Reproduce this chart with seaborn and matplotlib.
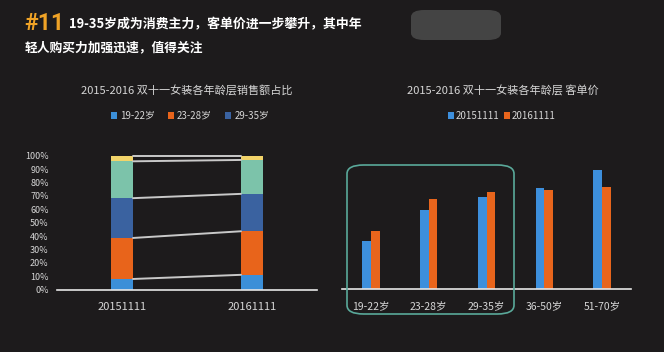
import numpy as np
import pandas as pd
import matplotlib
matplotlib.use("Agg")
import matplotlib.pyplot as plt
from matplotlib.patches import Patch, FancyBboxPatch
import seaborn as sns

# ---------------- data ----------------
years = ["20151111", "20161111"]
share_groups = ["19-22岁", "23-28岁", "29-35岁", "36-50岁", "51-70岁"]
share_2015 = [0.080, 0.306, 0.297, 0.275, 0.042]
share_2016 = [0.111, 0.325, 0.279, 0.253, 0.032]

price_groups = ["19-22岁", "23-28岁", "29-35岁", "36-50岁", "51-70岁"]
price_2015 = [143, 236, 276, 303, 356]
price_2016 = [172, 269, 289, 295, 306]

# ---------------- style ----------------
BG = "#1d1b1c"
sns.set_theme(style="dark")
plt.rcParams["font.family"] = ["Noto Sans CJK SC", "DejaVu Sans"]
plt.rcParams["axes.unicode_minus"] = False

seg_colors = ["#3b8fd8", "#e8641b", "#3a62a0", "#7cc3aa", "#f2d46a"]
price_colors = ["#3d8fdc", "#e8651c"]
TXT = "#d6d6d6"

fig = plt.figure(figsize=(6.64, 3.52), dpi=100)
fig.patch.set_facecolor(BG)

# headline
fig.text(24 / 664, 1 - 23 / 352, "#11", color="#f0a326", fontsize=16.5,
         fontweight="bold", family=["Roboto", "DejaVu Sans"], va="center", ha="left")
fig.text(69 / 664, 1 - 24 / 352, "19-35岁成为消费主力，客单价进一步攀升，其中年",
         color="white", fontsize=9.3, fontweight="bold", va="center", ha="left")
fig.text(25 / 664, 1 - 48 / 352, "轻人购买力加强迅速，值得关注",
         color="white", fontsize=9.2, fontweight="bold", va="center", ha="left")
# blurred logo placeholder
fig.patches.append(FancyBboxPatch((411 / 664, 1 - 40 / 352), 90 / 664, 30 / 352,
                                  boxstyle="round,pad=0,rounding_size=0.02",
                                  transform=fig.transFigure, facecolor="#4c4c4c",
                                  edgecolor="none", alpha=0.85))

# ---------------- left: stacked share ----------------
axL = fig.add_axes([57 / 664, 1 - 289.7 / 352, 260 / 664, 134.7 / 352])
axL.set_facecolor(BG)
cum = np.cumsum(np.array([share_2015, share_2016]), axis=1)
for i in range(len(share_groups) - 1, -1, -1):
    d = pd.DataFrame({"year": years, "v": cum[:, i]})
    sns.barplot(data=d, x="year", y="v", color=seg_colors[i], width=0.17,
                saturation=1, ax=axL, edgecolor="none")
# connector lines
half = 0.17 / 2
for i in range(len(share_groups)):
    axL.plot([0 + half, 1 - half], [cum[0, i], cum[1, i]], color="#c9c9c9", lw=1.4)
axL.set_xlim(-0.5, 1.5)
axL.set_yticks(np.arange(0, 1.01, 0.1))
axL.set_yticklabels([f"{int(round(t * 100))}%" for t in np.arange(0, 1.01, 0.1)])
axL.tick_params(axis="y", colors=TXT, labelsize=6.5, length=0, pad=6)
axL.tick_params(axis="x", colors=TXT, labelsize=8, length=0, pad=9)
axL.set_xlabel("")
axL.set_ylabel("")
axL.grid(False)
for s in ["top", "right", "left"]:
    axL.spines[s].set_visible(False)
axL.spines["bottom"].set_color("#e6e6e6")
axL.spines["bottom"].set_linewidth(1.2)
axL.set_ylim(0, 1.005)
fig.text(187 / 664, 1 - 91 / 352, "2015-2016 双十一女装各年龄层销售额占比",
         color=TXT, fontsize=8, ha="center", va="center")
handles = [Patch(facecolor=seg_colors[i], edgecolor="none") for i in range(3)]
fig.legend(handles, share_groups[:3], loc="center", bbox_to_anchor=(190 / 664, 1 - 116 / 352),
           ncol=3, frameon=False, fontsize=7, labelcolor=TXT, handlelength=0.6,
           handleheight=0.6, handletextpad=0.3, columnspacing=1.4)

# ---------------- right: price ----------------
axR = fig.add_axes([342 / 664, 1 - 288.7 / 352, 289 / 664, 133.7 / 352])
axR.set_facecolor(BG)
df_price = pd.DataFrame({
    "age": price_groups * 2,
    "year": [years[0]] * len(price_groups) + [years[1]] * len(price_groups),
    "price": price_2015 + price_2016,
})
sns.barplot(data=df_price, x="age", y="price", hue="year", palette=price_colors,
            width=0.30, saturation=1, ax=axR, edgecolor="none", legend=False)
axR.set_xlim(-0.5, 4.5)
axR.set_ylim(0, 356 * 133.7 / 118.7)
axR.set_yticks([])
axR.tick_params(axis="x", colors=TXT, labelsize=7.5, length=0, pad=9)
axR.set_xlabel("")
axR.set_ylabel("")
axR.grid(False)
for s in ["top", "right", "left"]:
    axR.spines[s].set_visible(False)
axR.spines["bottom"].set_color("#e6e6e6")
axR.spines["bottom"].set_linewidth(1.2)
fig.text(503 / 664, 1 - 91 / 352, "2015-2016 双十一女装各年龄层 客单价",
         color=TXT, fontsize=8, ha="center", va="center")
handles = [Patch(facecolor=price_colors[i], edgecolor="none") for i in range(2)]
fig.legend(handles, years, loc="center", bbox_to_anchor=(502 / 664, 1 - 116 / 352),
           ncol=2, frameon=False, fontsize=7, labelcolor=TXT, handlelength=0.6,
           handleheight=0.6, handletextpad=0.2, columnspacing=0.5)

# highlight box
fig.patches.append(FancyBboxPatch((347 / 664, 1 - 314 / 352), 167 / 664, 149 / 352,
                                  boxstyle="round,pad=0,rounding_size=0.025",
                                  transform=fig.transFigure, facecolor="none",
                                  edgecolor="#5aa99a", linewidth=1.2))

fig.savefig("out.png", dpi=100, facecolor=BG)
